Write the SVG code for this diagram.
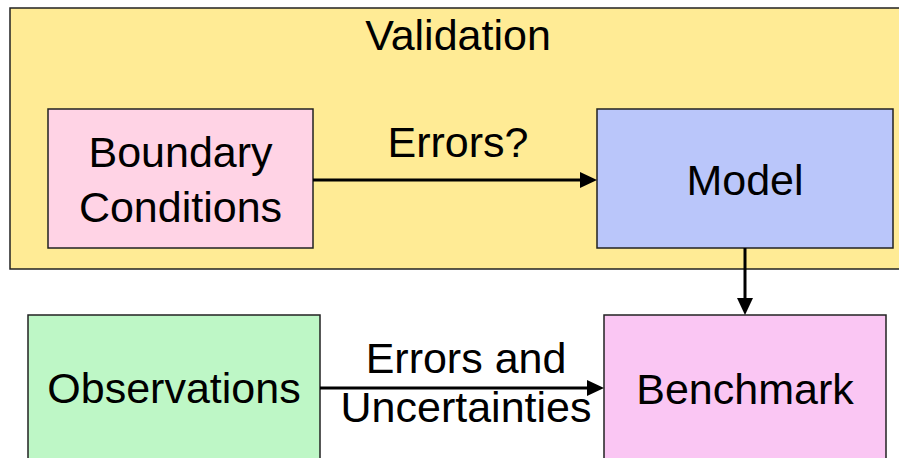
<svg xmlns="http://www.w3.org/2000/svg" width="899" height="458" viewBox="0 0 899 458">
<style>
  .box { stroke: #222; stroke-width: 1.5; }
  .lbl { font-family: "Liberation Sans", Arial, sans-serif; font-size: 43px; fill: #000; text-anchor: middle; }
  .conn { stroke: #000; stroke-width: 3; fill: none; }
</style>
<defs>
  <marker id="arr" markerUnits="userSpaceOnUse" markerWidth="18" markerHeight="18" viewBox="0 -9 18 18" refX="0" refY="0" orient="auto">
    <path d="M0,-8 L17,0 L0,8 Z" fill="#000"/>
  </marker>
</defs>
<rect width="899" height="458" fill="#fff"/>
<g id="validation">
  <rect x="10" y="8" width="900" height="261" fill="#FFEB95" class="box"/>
  <text x="458" y="50" class="lbl">Validation</text>
</g>
<g id="boundary-conditions">
  <rect x="48" y="109" width="265" height="139" fill="#FFD3E5" class="box"/>
  <text x="180.5" y="167" class="lbl">Boundary</text>
  <text x="180.5" y="222" class="lbl">Conditions</text>
</g>
<g id="model">
  <rect x="597" y="109" width="296" height="139" fill="#BAC6FA" class="box"/>
  <text x="745" y="195" class="lbl">Model</text>
</g>
<g id="observations">
  <rect x="28" y="315" width="292" height="160" fill="#BEF7C6" class="box"/>
  <text x="174" y="403" class="lbl">Observations</text>
</g>
<g id="benchmark">
  <rect x="604" y="315" width="282" height="160" fill="#FAC6F3" class="box"/>
  <text x="745" y="404" class="lbl">Benchmark</text>
</g>
<g id="connectors">
  <line x1="313" y1="180" x2="580" y2="180" class="conn" marker-end="url(#arr)"/>
  <text x="458" y="157" class="lbl">Errors?</text>
  <line x1="745" y1="248" x2="745" y2="298" class="conn" marker-end="url(#arr)"/>
  <line x1="320" y1="388" x2="587" y2="388" class="conn" marker-end="url(#arr)"/>
  <text x="466" y="373" class="lbl">Errors and</text>
  <text x="466" y="422" class="lbl">Uncertainties</text>
</g>
</svg>
